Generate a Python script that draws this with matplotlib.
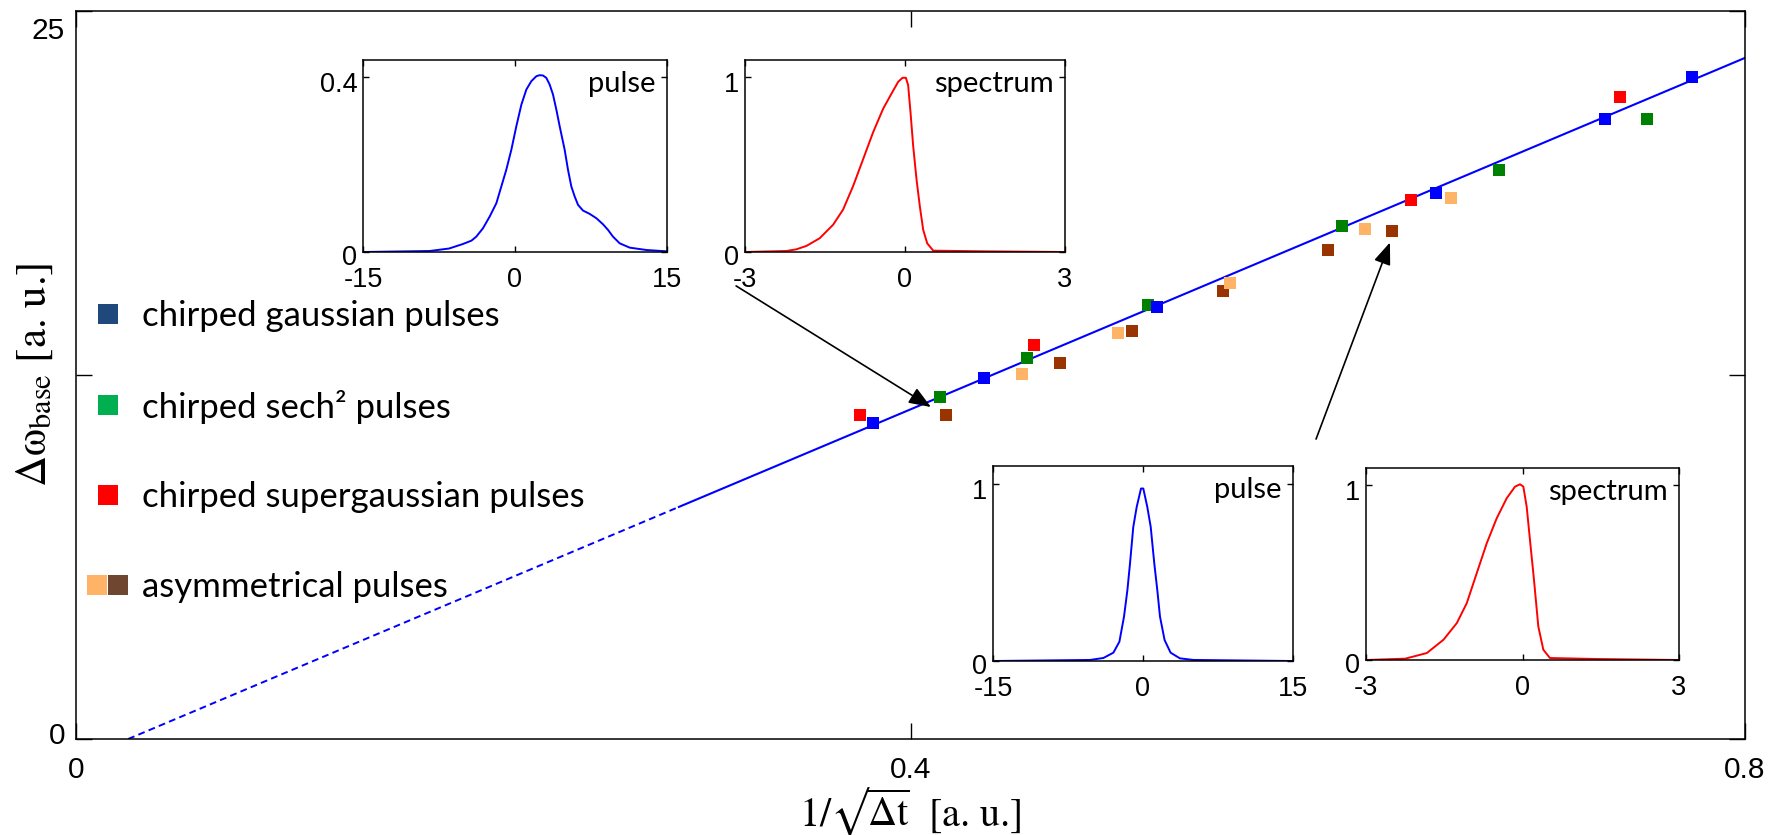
import matplotlib
matplotlib.use("Agg")
import matplotlib.pyplot as plt
from matplotlib.lines import Line2D
from matplotlib.legend_handler import HandlerTuple
from matplotlib.transforms import ScaledTranslation

W, H, DPI = 1777, 835, 100

plt.rcParams["font.family"] = ["Liberation Sans", "DejaVu Sans"]
plt.rcParams["mathtext.fontset"] = "stix"
plt.rcParams["axes.unicode_minus"] = False

# ---- base bandwidth vs 1/sqrt(pulse duration) ----
gauss_x = [0.382, 0.435, 0.518, 0.652, 0.733, 0.7745]
gauss_y = [10.86, 12.41, 14.85, 18.76, 21.29, 22.73]
sech_x = [0.414, 0.456, 0.514, 0.607, 0.682, 0.753]
sech_y = [11.76, 13.09, 14.90, 17.62, 19.55, 21.29]
super_x = [0.376, 0.459, 0.640, 0.740]
super_y = [11.13, 13.54, 18.51, 22.03]
asym_a_x = [0.4535, 0.4995, 0.553, 0.618, 0.659]
asym_a_y = [12.54, 13.93, 15.67, 17.51, 18.57]
asym_b_x = [0.417, 0.4715, 0.506, 0.550, 0.600, 0.631]
asym_b_y = [11.13, 12.90, 14.02, 15.40, 16.79, 17.44]

# linear fit: extrapolated part, then fitted range
fit_x = [0.025, 0.289, 0.8]
fit_y = [0.0, 7.97, 23.39]

legend_labels = ["chirped gaussian pulses", "chirped sech² pulses",
                 "chirped supergaussian pulses", "asymmetrical pulses"]

# ---- example pulse / spectrum shapes ----
pulse1_t = [-15, -8.42, -6.5, -5.13, -4.3, -3.82, -3.16, -2.50, -1.84, -1.35, -0.86,
            -0.36, 0.13, 0.63, 1.12, 1.61, 2.11, 2.43, 2.76, 3.09, 3.42, 3.75, 4.08,
            4.41, 4.90, 5.23, 5.56, 5.89, 6.22, 6.71, 7.37, 8.03, 8.68, 9.18, 9.67,
            10.33, 11.32, 12.96, 15.0]
pulse1_i = [0.0, 0.0023, 0.0080, 0.0184, 0.0260, 0.0352, 0.0544, 0.0812, 0.1118,
            0.1501, 0.1884, 0.2344, 0.2880, 0.3378, 0.3723, 0.3914, 0.4029, 0.4052,
            0.4045, 0.3991, 0.3838, 0.3608, 0.3263, 0.2880, 0.2344, 0.1884, 0.1501,
            0.1272, 0.1080, 0.0950, 0.0873, 0.0774, 0.0636, 0.0506, 0.0352, 0.0199,
            0.0100, 0.0046, 0.0015]

spec1_w = [-3.0, -2.224, -2.037, -1.849, -1.599, -1.348, -1.161, -0.973, -0.785,
           -0.598, -0.410, -0.253, -0.128, -0.047, 0.016, 0.059, 0.103, 0.153, 0.216,
           0.278, 0.341, 0.416, 0.529, 1.467, 3.0]
spec1_s = [0.0, 0.0058, 0.0154, 0.0347, 0.0790, 0.1561, 0.2428, 0.3776, 0.5318,
           0.6859, 0.8208, 0.9075, 0.9750, 0.9981, 0.9981, 0.9557, 0.8015, 0.6089,
           0.4162, 0.2620, 0.1272, 0.0501, 0.0077, 0.0039, 0.0]

pulse2_t = [-15, -5.29, -3.96, -2.96, -2.36, -1.90, -1.56, -1.30, -0.97, -0.63, -0.20,
            0.03, 0.43, 0.77, 1.13, 1.43, 1.70, 2.16, 2.76, 3.69, 5.02, 15]
pulse2_i = [0.0, 0.006, 0.017, 0.047, 0.109, 0.250, 0.400, 0.550, 0.757, 0.869, 0.973,
            0.973, 0.869, 0.757, 0.550, 0.400, 0.250, 0.118, 0.047, 0.015, 0.006, 0.0]

spec2_w = [-3.0, -2.248, -1.833, -1.514, -1.259, -1.068, -0.877, -0.685, -0.494,
           -0.303, -0.143, -0.048, 0.016, 0.080, 0.143, 0.220, 0.303, 0.399, 0.526,
           1.419, 3.0]
spec2_s = [0.0, 0.0076, 0.0400, 0.1163, 0.2116, 0.3260, 0.4976, 0.6692, 0.8122,
           0.9266, 0.9933, 1.0067, 0.9933, 0.8789, 0.6883, 0.4595, 0.1926, 0.0591,
           0.0114, 0.0057, 0.0]


def px_box(x0, y0, x1, y1):
    """Axes rectangle from pixel edges (origin top-left)."""
    return [x0 / W, 1 - y1 / H, (x1 - x0) / W, (y1 - y0) / H]


def shift_ylabels(ax, offsets_px):
    fig = ax.figure
    for tick, dy in zip(ax.yaxis.get_major_ticks(), offsets_px):
        lbl = tick.label1
        lbl.set_transform(lbl.get_transform()
                          + ScaledTranslation(0, dy / DPI, fig.dpi_scale_trans))


fig = plt.figure(figsize=(W / DPI, H / DPI), dpi=DPI)
ax = fig.add_axes(px_box(76, 11, 1745, 739))

ax.plot(fit_x[:2], fit_y[:2], color="#0000FF", lw=1.4, ls=(0, (3.5, 2.2)), zorder=2)
ax.plot(fit_x[1:], fit_y[1:], color="#0000FF", lw=1.5, zorder=2)

mk = dict(ls="none", marker="s", ms=8.8, mew=0, zorder=3)
ax.plot(super_x, super_y, color="#FF0000", **mk)
ax.plot(sech_x, sech_y, color="#008000", **mk)
ax.plot(asym_b_x, asym_b_y, color="#993300", **mk)
ax.plot(asym_a_x, asym_a_y, color="#FFB366", **mk)
ax.plot(gauss_x, gauss_y, color="#0000FF", **mk)

ax.set_xlim(0, 0.8)
ax.set_ylim(0, 25)
ax.set_xticks([0, 0.4, 0.8])
ax.set_xticklabels(["0", "0.4", "0.8"])
ax.set_yticks([0, 12.5, 25])
ax.set_yticklabels(["0", "", "25"])
ax.tick_params(direction="in", length=11.5, width=1, top=True, right=True,
               labelsize=21.5)
ax.tick_params(axis="x", pad=12)
ax.tick_params(axis="y", pad=8)
shift_ylabels(ax, [6, 0, -17])
for s in ax.spines.values():
    s.set_linewidth(1.1)

ax.set_ylabel("Δω$_{\\mathrm{base}}$ [a. u.]", family="STIXGeneral", fontsize=31)
ax.yaxis.set_label_coords(-0.0126, 0.5)
ax.set_xlabel("1/√$\\overline{\\Delta\\mathrm{t}}$  [a. u.]", family="STIXGeneral",
              fontsize=29)
ax.xaxis.set_label_coords(0.5, -0.064)

sq = dict(ls="none", marker="s", ms=14.5, mew=0)
handles = [Line2D([], [], color="#1F497D", **sq),
           Line2D([], [], color="#00B050", **sq),
           Line2D([], [], color="#FF0000", **sq),
           (Line2D([], [], color="#FFB366", **sq), Line2D([], [], color="#6F4630", **sq))]
ax.legend(handles, legend_labels, loc="upper left",
          bbox_to_anchor=(86 / W, 1 - 300 / H), bbox_transform=fig.transFigure,
          frameon=False, borderpad=0, borderaxespad=0, handlelength=1.24,
          handletextpad=0.37, labelspacing=1.66,
          prop={"family": "Lato", "size": 25},
          handler_map={tuple: HandlerTuple(ndivide=None, pad=0.0)})

arrow = dict(arrowstyle="-|>,head_length=0.9,head_width=0.35", color="black",
             lw=1.2, mutation_scale=15, shrinkA=0, shrinkB=0)
ax.annotate("", xy=(0.4098, 11.40), xytext=(0.3164, 15.56), arrowprops=arrow, zorder=4)
ax.annotate("", xy=(0.6298, 17.05), xytext=(0.5944, 10.30), arrowprops=arrow, zorder=4)


def inset(box, t, v, color, xlim, xt, xtl, ylim, yt, ytl, title):
    a = fig.add_axes(px_box(*box))
    a.plot(t, v, color=color, lw=1.4)
    a.set_xlim(*xlim)
    a.set_ylim(*ylim)
    a.set_xticks(xt)
    a.set_xticklabels(xtl)
    a.set_yticks(yt)
    a.set_yticklabels(ytl)
    a.tick_params(direction="in", length=4, width=1, top=True, right=True,
                  labelsize=19.5)
    a.tick_params(axis="x", pad=11)
    a.tick_params(axis="y", pad=4)
    shift_ylabels(a, [-3, -5])
    for s in a.spines.values():
        s.set_linewidth(1.1)
    wpx, hpx = box[2] - box[0], box[3] - box[1]
    a.text(1 - 11 / wpx, 1 - 24 / hpx, title, transform=a.transAxes,
           ha="right", va="center", fontsize=21, family="Lato")
    return a


inset((363, 60, 667, 252), pulse1_t, pulse1_i, "#0000FF", (-15, 15), [-15, 0, 15],
      ["-15", "0", "15"], (0, 0.44), [0, 0.4], ["0", "0.4"], "pulse")
inset((745, 60, 1065, 252), spec1_w, spec1_s, "#FF0000", (-3, 3), [-3, 0, 3],
      ["-3", "0", "3"], (0, 1.1), [0, 1], ["0", "1"], "spectrum")
inset((993, 466, 1293, 661), pulse2_t, pulse2_i, "#0000FF", (-15, 15), [-15, 0, 15],
      ["-15", "0", "15"], (0, 1.1), [0, 1], ["0", "1"], "pulse")
inset((1366, 468, 1679, 660), spec2_w, spec2_s, "#FF0000", (-3, 3), [-3, 0, 3],
      ["-3", "0", "3"], (0, 1.1), [0, 1], ["0", "1"], "spectrum")

fig.savefig("out.png", dpi=DPI)
